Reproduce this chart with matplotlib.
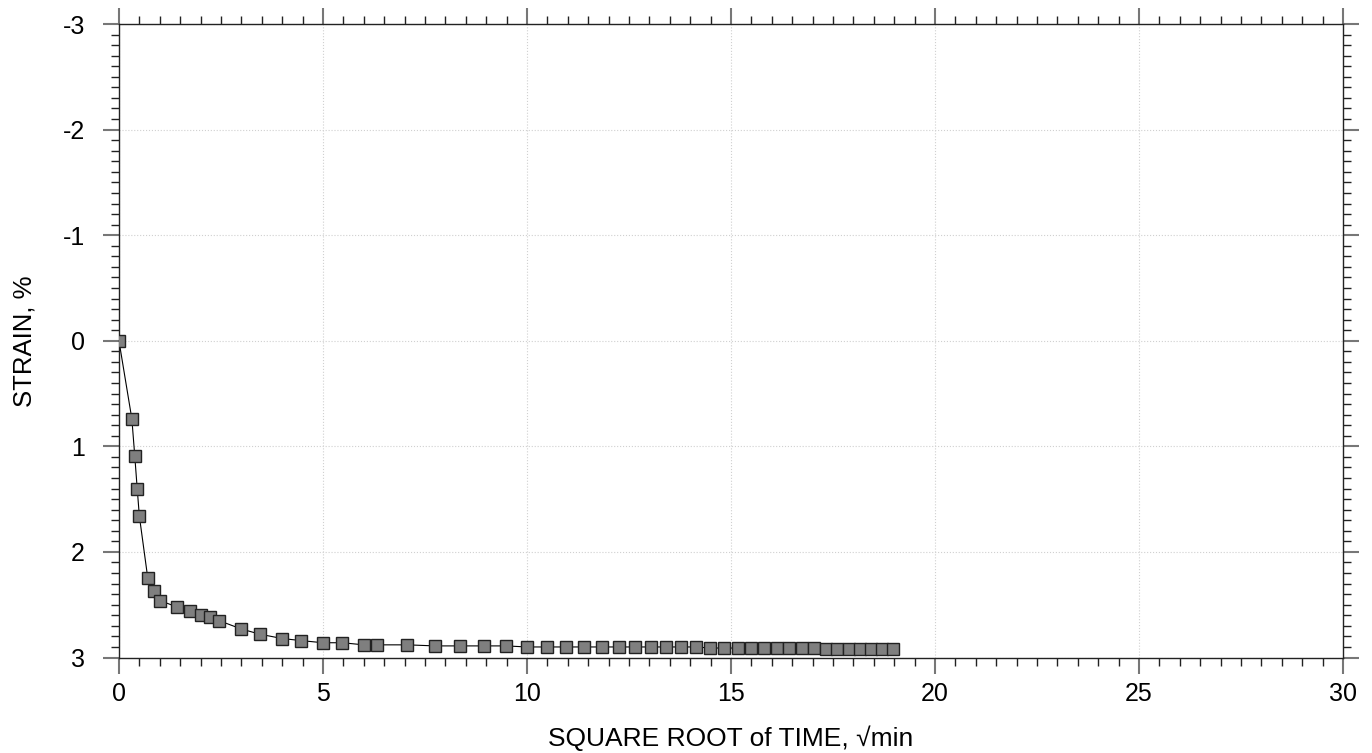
import numpy as np
import matplotlib
matplotlib.use('Agg')
import matplotlib.pyplot as plt
from matplotlib.ticker import MultipleLocator

plt.rcParams['font.family'] = ['Liberation Sans', 'DejaVu Sans']
plt.rcParams['axes.unicode_minus'] = False

# elapsed time, min (x axis shows its square root)
time_min = [0, 0.1, 0.15, 0.2, 0.25, 0.5, 0.75, 1, 2, 3, 4, 5, 6, 9, 12, 16, 20, 25,
            30, 36, 40, 50, 60, 70, 80, 90, 100, 110, 120, 130, 140, 150, 160, 170,
            180, 190, 200, 210, 220, 230, 240, 250, 260, 270, 280, 290, 300, 310,
            320, 330, 340, 350, 360]
# strain, %
strain = [0.00, 0.74, 1.09, 1.40, 1.66, 2.25, 2.37, 2.46, 2.52, 2.56, 2.60, 2.62, 2.65,
          2.73, 2.78, 2.82, 2.84, 2.86, 2.86, 2.88, 2.88, 2.88, 2.89, 2.89, 2.89, 2.89,
          2.90, 2.90, 2.90, 2.90, 2.90, 2.90, 2.90, 2.90, 2.90, 2.90, 2.90, 2.91, 2.91,
          2.91, 2.91, 2.91, 2.91, 2.91, 2.91, 2.91, 2.92, 2.92, 2.92, 2.92, 2.92, 2.92,
          2.92]

x = np.sqrt(time_min)

fig = plt.figure(figsize=(13.72, 7.53), dpi=100)
ax = fig.add_axes([0.0867, 0.1268, 0.8922, 0.8413])

ax.plot(x, strain, color='black', lw=0.8, marker='s', markersize=9,
        markerfacecolor='#7f7f7f', markeredgecolor='#222222', markeredgewidth=1.0,
        zorder=3)

ax.set_xlim(0, 30)
ax.set_ylim(3, -3)
ax.xaxis.set_major_locator(MultipleLocator(5))
ax.xaxis.set_minor_locator(MultipleLocator(0.5))
ax.yaxis.set_major_locator(MultipleLocator(1))
ax.yaxis.set_minor_locator(MultipleLocator(0.1))

ax.grid(True, which='major', color='#d0d0d0', linestyle=':', linewidth=0.8, zorder=0)

for s in ax.spines.values():
    s.set_color('#222222')
    s.set_linewidth(1.0)

ax.tick_params(which='both', direction='out', top=True, right=True,
               labeltop=False, labelright=False)
ax.tick_params(which='major', length=11.5, width=1.5, color='#777777',
               labelsize=18, pad=6)
ax.tick_params(which='minor', length=5.5, width=1.0, color='#222222')
ax.tick_params(axis='y', which='major', pad=13)

ax.set_xlabel('SQUARE ROOT of TIME, \u221amin', fontsize=19, labelpad=14)
ax.set_ylabel('STRAIN, %', fontsize=18.5, labelpad=19)

fig.savefig('out.png', dpi=100)
